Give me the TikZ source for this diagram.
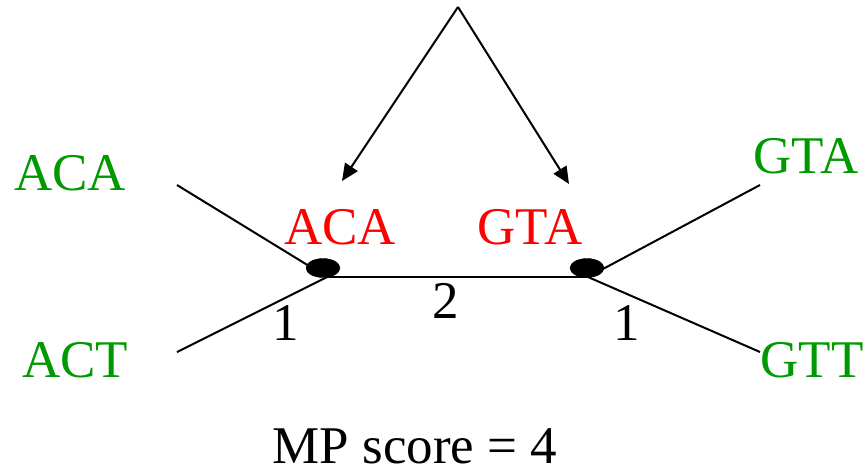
\documentclass[tikz,border=0pt]{standalone}
\usepackage{fontspec}
\setmainfont{Liberation Serif}
\usepackage{tikz}
\usetikzlibrary{arrows.meta,shapes.geometric}
\usepackage{xcolor}
\definecolor{LeafGreen}{HTML}{009900}
\definecolor{InnerRed}{HTML}{FF0000}
\tikzset{
  leaflabel/.style={anchor=base,inner sep=0pt,text=LeafGreen,font=\fontsize{53}{60}\selectfont},
  innerlabel/.style={anchor=base,inner sep=0pt,text=InnerRed,font=\fontsize{53}{60}\selectfont},
  costlabel/.style={anchor=base,inner sep=0pt,font=\fontsize{53}{60}\selectfont},
  innernode/.style={ellipse,draw=black,fill=black,minimum width=34pt,minimum height=19pt,inner sep=0pt},
  branch/.style={line width=2pt,draw=black},
  arrow/.style={-{Triangle[length=17pt,width=15pt]},line width=2pt,draw=black}
}
\begin{document}
\begin{tikzpicture}[x=1pt,y=-1pt]
\useasboundingbox (0,0) rectangle (865,472);
\coordinate (jleft) at (327,277);
\coordinate (jright) at (588,277);
\coordinate (endaca) at (177,185);
\coordinate (endact) at (177,352);
\coordinate (endgta) at (760,185);
\coordinate (endgtt) at (760,352);
\coordinate (top) at (458,7);
\coordinate (tipleft) at (342,181);
\coordinate (tipright) at (569,184);
\draw[branch] (endaca) -- (jleft);
\draw[branch] (endact) -- (jleft);
\draw[branch] (jleft) -- (jright);
\draw[branch] (endgta) -- (jright);
\draw[branch] (endgtt) -- (jright);
\node[innernode] (nleft) at (323,268) {};
\node[innernode] (nright) at (587,268) {};
\draw[arrow] (top) -- (tipleft);
\draw[arrow] (top) -- (tipright);
\node[leaflabel] (laca) at (70,190) {ACA};
\node[leaflabel] (lact) at (75,377) {ACT};
\node[leaflabel] (lgta) at (806,173) {GTA};
\node[leaflabel] (lgtt) at (812,377) {GTT};
\node[innerlabel] (iaca) at (340,244) {ACA};
\node[innerlabel] (igta) at (530,244) {GTA};
\node[costlabel] (cleft) at (286,340) {1};
\node[costlabel] (cmid) at (446,318) {2};
\node[costlabel] (cright) at (627,340) {1};
\node[costlabel,text depth=0pt] (score) at (415,463) {MP score = 4};
\end{tikzpicture}
\end{document}
